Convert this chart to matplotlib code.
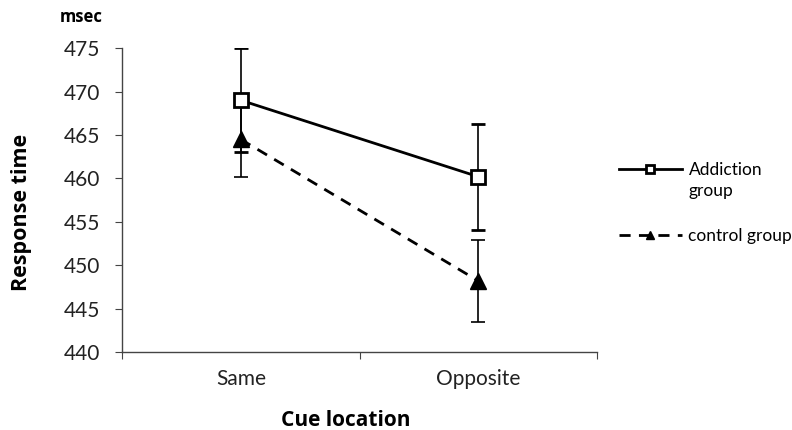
import matplotlib
matplotlib.use('Agg')
import matplotlib.pyplot as plt

plt.rcParams['font.family'] = ['Lato', 'DejaVu Sans']

cues = ['Same', 'Opposite']
addiction = [469.0, 460.2]
addiction_err = [6.0, 6.1]
control = [464.5, 448.2]
control_err = [4.3, 4.7]

fig = plt.figure(figsize=(7.92, 4.3), dpi=100)
ax = fig.add_axes([0.154, 0.181, 0.600, 0.707])

x = list(range(len(cues)))

ax.errorbar(x, addiction, yerr=addiction_err, color='black', lw=2,
            marker='s', ms=10, mfc='white', mec='black', mew=2,
            ecolor='black', elinewidth=1.2, capsize=5, capthick=1.2,
            label='Addiction', zorder=3)
ax.errorbar(x, control, yerr=control_err, color='black', lw=2,
            ls=(0, (4, 3)), marker='^', ms=11, mfc='black', mec='black',
            ecolor='black', elinewidth=1.2, capsize=5, capthick=1.2,
            label='control group', zorder=3)

ax.set_xlim(-0.5, 1.5)
ax.set_ylim(440, 475)
ax.set_yticks(range(440, 476, 5))
ax.set_xticks([-0.5, 0.5, 1.5])
ax.set_xticklabels([])
ax.set_xticks(x, minor=True)
ax.set_xticklabels(cues, minor=True)
ax.tick_params(axis='x', which='minor', length=0, pad=12, labelsize=15, colors='#222222')
ax.tick_params(axis='x', which='major', length=5, direction='out', color='#444444')
ax.tick_params(axis='y', length=5, direction='out', labelsize=15, colors='#222222', color='#444444', pad=11)

for s in ['top', 'right']:
    ax.spines[s].set_visible(False)
for s in ['left', 'bottom']:
    ax.spines[s].set_color('#444444')
    ax.spines[s].set_linewidth(1)

bold = ['Open Sans', 'DejaVu Sans']
ax.set_xlabel('Cue location', fontsize=15, fontweight='bold', family=bold)
ax.set_ylabel('Response time', fontsize=15.5, fontweight='bold', family=bold)
ax.xaxis.set_label_coords(0.47, -0.19)
ax.yaxis.set_label_coords(-0.189, 0.46)
fig.text(0.076, 0.96, 'msec', fontsize=12, fontweight='bold', family=bold, ha='left', va='center')

handles, labels = ax.get_legend_handles_labels()
handles = [h[0] for h in handles]
leg = ax.legend(handles, labels, loc='upper left', bbox_to_anchor=(0.7816, 0.623),
                bbox_transform=fig.transFigure, frameon=False, fontsize=12.5,
                borderpad=0, borderaxespad=0,
                handlelength=3.6, handletextpad=0.4, labelspacing=2.9, markerscale=0.55)

# second line of the "Addiction group" label, under the first
fig.canvas.draw()
bb = leg.get_texts()[0].get_window_extent().transformed(fig.transFigure.inverted())
fig.text(bb.x0, bb.y0 - 0.012, 'group', fontsize=12.5, ha='left', va='top')

fig.savefig('out.png', dpi=100)
